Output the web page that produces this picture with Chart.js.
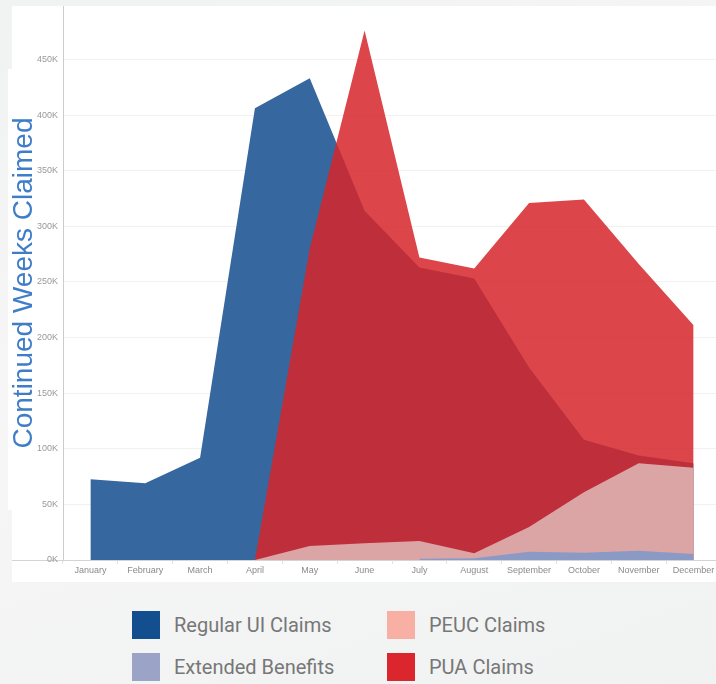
<!DOCTYPE html>
<html>
<head>
<meta charset="utf-8">
<title>Continued Weeks Claimed</title>
<script src="https://cdn.jsdelivr.net/npm/chart.js@4/dist/chart.umd.min.js"></script>
<style>
  html, body { margin: 0; padding: 0; }
  body {
    width: 716px;
    height: 684px;
    overflow: hidden;
    position: relative;
    background: linear-gradient(160deg, #f1f2f2 0%, #f6f6f6 45%, #f1f2f2 100%);
    font-family: Roboto, "Liberation Sans", sans-serif;
  }
  /* white card behind the plot, plus the little tab behind the axis title */
  .panel { position: absolute; left: 12px; top: 6px; width: 704px; height: 576px; background: #fff; }
  .title-tab { position: absolute; left: 8px; top: 69px; width: 10px; height: 441px; background: #fff; }
  .baseline { position: absolute; left: 12px; top: 560px; width: 704px; height: 1px; background: #d4d4d4; }
  #chart { position: absolute; left: 0; top: 0; }
  .legend { position: absolute; left: 0; top: 611px; width: 716px; }
  .item { position: absolute; height: 28px; line-height: 28px; font-size: 20px; color: #777; white-space: nowrap; }
  .item i { position: absolute; left: 0; top: 0; width: 28px; height: 28px; }
  .item span { position: absolute; left: 42px; top: 0; }
</style>
</head>
<body>
<div class="panel"></div>
<div class="title-tab"></div>
<div class="baseline"></div>
<canvas id="chart" width="721" height="580"></canvas>
<div class="legend" id="legend"></div>

<script>
// Continued weeks claimed by month, four programs drawn as overlapping (not stacked) areas.
// Values, in claims.

const months = ["January", "February", "March", "April", "May", "June",
  "July", "August", "September", "October", "November", "December"];

const regularUI = [72600, 69000, 92000, 406000, 433000, 314000, 263000, 253000, 173000, 108000, 94000, 87000];
const pua = [null, null, null, 0, 280000, 476000, 272000, 262000, 321000, 324000, 266000, 211000];
const peuc = [null, null, null, 0, 12500, 15000, 17000, 6000, 29600, 61000, 87000, 83000];
const extended = [null, null, null, null, null, null, 1200, 1500, 7400, 6500, 8300, 5400];

const yTicks = [0, 50000, 100000, 150000, 200000, 250000, 300000, 350000, 400000, 450000];
const yMax = 498000;

(function () {
  // PUA is translucent so it turns dark where it sits over the blue Regular UI area.
  const series = [
    { label: "Regular UI Claims", data: regularUI, fill: "#36679e", key: "#134f8e", order: 4 },
    { label: "PUA Claims", data: pua, fill: "rgba(214,38,43,0.86)", key: "#dc262e", order: 3 },
    { label: "PEUC Claims", data: peuc, fill: "#dba5a5", key: "#f8b0a4", order: 2 },
    { label: "Extended Benefits", data: extended, fill: "#8b9ac4", key: "#9ba3c7", order: 1 },
  ];

  const datasets = series.map((s) => ({
    label: s.label,
    data: s.data,
    order: s.order,
    fill: "origin",
    backgroundColor: s.fill,
    borderWidth: 0,
    pointRadius: 0,
    tension: 0,
  }));

  const tickFont = { family: "'Liberation Sans', Arial, sans-serif", size: 9 };

  new Chart(document.getElementById("chart"), {
    type: "line",
    data: { labels: months, datasets },
    options: {
      responsive: false,
      animation: false,
      layout: { padding: { top: 6, left: 0, right: 0, bottom: 0 } },
      plugins: { legend: { display: false }, tooltip: { enabled: false } },
      scales: {
        x: {
          type: "category",
          offset: true,
          afterFit: (scale) => { scale.height = 20; },
          grid: { offset: true, drawOnChartArea: false, tickLength: 4, color: "#e2e2e2" },
          border: { color: "#d4d4d4" },
          ticks: { color: "#8a8a8a", font: tickFont, padding: 1, maxRotation: 0, autoSkip: false },
        },
        y: {
          min: 0,
          max: yMax,
          // fixed width so the plot starts where the reference does; drop the label
          // half-height padding so the plot top sits right under the card edge
          afterFit: (scale) => {
            scale.width = 63;
            scale.paddingTop = 0;
            scale.paddingBottom = 0;
          },
          afterBuildTicks: (scale) => { scale.ticks = yTicks.map((v) => ({ value: v })); },
          grid: { color: "#f1f1f1", drawTicks: false },
          border: { color: "#cccccc" },
          ticks: {
            color: "#999",
            font: tickFont,
            padding: 5,
            callback: (v) => v / 1000 + "K",
          },
          title: {
            display: true,
            text: "Continued Weeks Claimed",
            color: "#3f7dc8",
            font: { family: "'Liberation Sans', Arial, sans-serif", size: 28 },
            padding: { top: 7, bottom: 0 },
          },
        },
      },
    },
  });

  // Two-column legend under the chart, built from the same series list.
  const legendOrder = [
    [series[0], 132, 0], [series[2], 387, 0],
    [series[3], 132, 42], [series[1], 387, 42],
  ];
  const legend = document.getElementById("legend");
  legendOrder.forEach(([s, x, y]) => {
    const el = document.createElement("div");
    el.className = "item";
    el.style.left = x + "px";
    el.style.top = y + "px";
    el.innerHTML = '<i style="background:' + s.key + '"></i><span>' + s.label + "</span>";
    legend.appendChild(el);
  });
})();
</script>
</body>
</html>
